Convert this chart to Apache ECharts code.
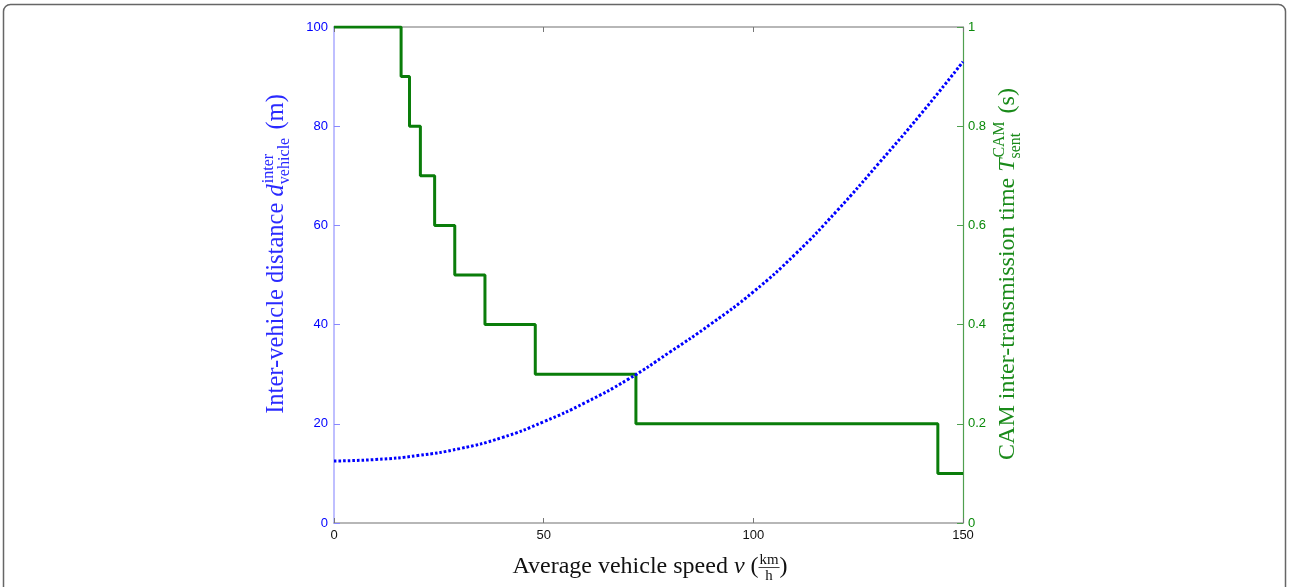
<!DOCTYPE html>
<html>
<head>
<meta charset="utf-8">
<script src="https://cdn.jsdelivr.net/npm/echarts@6/dist/echarts.min.js"></script>
<style>
  html, body { margin: 0; padding: 0; background: #fff; }
  #chart { width: 1289px; height: 587px; }
</style>
</head>
<body>
<div id="chart"></div>
<script>
// speed (km/h) at which the inter-vehicle distance was read
const speedSamples = [0, 10, 20, 30, 40, 50, 60, 70, 80, 90, 100, 110, 120, 130, 140, 150];
// inter-vehicle distance (m)
const distanceValues = [12.5, 12.8, 13.6, 15.0, 17.2, 20.4, 24.3, 28.9, 34.4, 40.2, 46.6, 54.2, 63.0, 72.6, 82.5, 93.0];
// speeds where the CAM time steps down, and the time held up to that speed
const stepSpeeds = [0, 16, 18, 20.6, 24, 28.8, 36, 48, 72, 144, 150];
const camTimes = [1, 0.9, 0.8, 0.7, 0.6, 0.5, 0.4, 0.3, 0.2, 0.1, 0.1];

const xTicks = { min: 0, max: 150, interval: 50 };
const leftTicks = { min: 0, max: 100, interval: 20 };
const rightTicks = { min: 0, max: 1, interval: 0.2 };

const SERIF = 'Liberation Serif';
const SANS = 'Liberation Sans';
const BLUE = '#0000ff';
const GREEN = '#0a7d0a';

const ctx = document.createElement('canvas').getContext('2d');
function fontOf(size, italic) {
  return (italic ? 'italic ' : '') + size + 'px "' + SERIF + '"';
}
function measure(text, size, italic) {
  ctx.font = fontOf(size, italic);
  return ctx.measureText(text).width;
}

// lays out a small piece of math-like text (sub/superscripts, fractions)
function mathLabel(parts, size, color) {
  const children = [];
  let x = 0;
  const put = (text, s, italic, baseline, at) => {
    children.push({
      type: 'text',
      x: at,
      y: baseline - 0.3 * s,
      style: { text: text, fill: color, font: fontOf(s, italic), align: 'left', verticalAlign: 'middle' }
    });
  };
  parts.forEach(p => {
    if (p.text != null) {
      put(p.text, size, p.italic, 0, x);
      x += measure(p.text, size, p.italic);
    } else if (p.sup != null) {
      const s = size * 0.66;
      put(p.sup, s, false, -0.42 * size, x + 1);
      put(p.sub, s, false, 0.24 * size, x);
      x += Math.max(measure(p.sup, s) + 1, measure(p.sub, s)) + 2;
    } else if (p.num != null) {
      const s = size * 0.62;
      const w = Math.max(measure(p.num, s), measure(p.den, s)) + 2;
      put(p.num, s, false, -0.38 * size, x + (w - measure(p.num, s)) / 2);
      put(p.den, s, false, 0.28 * size, x + (w - measure(p.den, s)) / 2);
      children.push({
        type: 'line',
        shape: { x1: x, y1: -0.27 * size, x2: x + w, y2: -0.27 * size },
        style: { stroke: color, lineWidth: 0.8 }
      });
      x += w;
    }
  });
  return { children, width: x };
}

function placedLabel(parts, size, color, cx, cy, rotation) {
  const lab = mathLabel(parts, size, color);
  return {
    type: 'group',
    x: cx,
    y: cy,
    rotation: rotation,
    silent: true,
    children: [{ type: 'group', x: -lab.width / 2, children: lab.children }]
  };
}

const chart = echarts.init(document.getElementById('chart'), null, { renderer: 'canvas' });

const grid = { left: 334, right: 326, top: 27, bottom: 64 };

chart.setOption({
  animation: false,
  backgroundColor: '#fff',
  grid: grid,
  xAxis: [
    {
      type: 'value',
      position: 'bottom',
      min: xTicks.min, max: xTicks.max, interval: xTicks.interval,
      axisLine: { onZero: false, lineStyle: { color: '#a0a0a0', width: 1.5 } },
      axisTick: { inside: true, length: 5, lineStyle: { color: '#777' } },
      axisLabel: { color: '#111', fontFamily: SANS, fontSize: 13, margin: 6 },
      splitLine: { show: false }
    },
    {
      type: 'value',
      position: 'top',
      min: xTicks.min, max: xTicks.max, interval: xTicks.interval,
      axisLine: { onZero: false, lineStyle: { color: '#a0a0a0', width: 1.5 } },
      axisTick: { inside: true, length: 5, lineStyle: { color: '#777' } },
      axisLabel: { show: false },
      splitLine: { show: false }
    }
  ],
  yAxis: [
    {
      type: 'value',
      position: 'left',
      min: leftTicks.min, max: leftTicks.max, interval: leftTicks.interval,
      axisLine: { show: true, onZero: false, lineStyle: { color: '#aaaaff', width: 1.5 } },
      axisTick: { show: true, inside: true, length: 6, lineStyle: { color: '#8888ff' } },
      axisLabel: { color: '#0000ff', fontFamily: SANS, fontSize: 13, margin: 6 },
      splitLine: { show: false }
    },
    {
      type: 'value',
      position: 'right',
      min: rightTicks.min, max: rightTicks.max, interval: rightTicks.interval,
      axisLine: { show: true, onZero: false, lineStyle: { color: '#4f9f4f', width: 1.2 } },
      axisTick: { show: true, inside: true, length: 6, lineStyle: { color: '#4f9f4f' } },
      axisLabel: { color: '#0a8a0a', fontFamily: SANS, fontSize: 13, margin: 5 },
      splitLine: { show: false }
    }
  ],
  series: [
    {
      name: 'distance',
      type: 'line',
      yAxisIndex: 0,
      data: speedSamples.map((v, i) => [v, distanceValues[i]]),
      smooth: true,
      showSymbol: false,
      lineStyle: { color: BLUE, width: 3, type: [2.6, 2], cap: 'butt' },
      z: 3
    },
    {
      name: 'cam',
      type: 'line',
      yAxisIndex: 1,
      step: 'end',
      data: stepSpeeds.map((v, i) => [v, camTimes[i]]),
      showSymbol: false,
      lineStyle: { color: GREEN, width: 3 },
      z: 2
    }
  ],
  graphic: [
    {
      type: 'rect',
      silent: true,
      z: -10,
      shape: { x: 3.5, y: 4.5, width: 1282, height: 640, r: 7 },
      style: { fill: 'none', stroke: '#666', lineWidth: 1.5 }
    },
    placedLabel(
      [{ text: 'Average vehicle speed ' }, { text: 'v', italic: true }, { text: ' (' }, { num: 'km', den: 'h' }, { text: ')' }],
      24, '#111', 650, 574, 0
    ),
    placedLabel(
      [{ text: 'Inter-vehicle distance ' }, { text: 'd', italic: true }, { sup: 'inter', sub: 'vehicle' }, { text: ' (m)' }],
      24.5, '#2a2aff', 284, 254, Math.PI / 2
    ),
    placedLabel(
      [{ text: 'CAM inter-transmission time ' }, { text: 'T', italic: true }, { sup: 'CAM', sub: 'sent' }, { text: ' (s)' }],
      24, '#198a19', 1015, 274, Math.PI / 2
    )
  ]
});
</script>
</body>
</html>
